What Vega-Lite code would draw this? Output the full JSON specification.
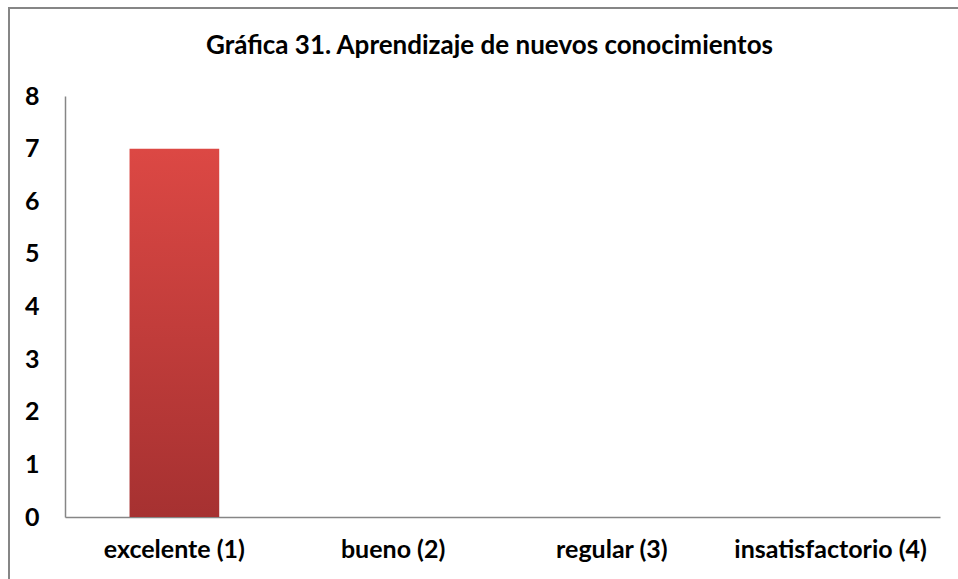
{
  "$schema": "https://vega.github.io/schema/vega-lite/v6.json",
  "width": 957,
  "height": 582,
  "autosize": {"type": "none"},
  "padding": {"left": 9, "top": 8, "right": 0, "bottom": 0},
  "background": "white",
  "title": {
    "text": "Gráfica 31. Aprendizaje de nuevos conocimientos",
    "font": "Lato",
    "fontSize": 26,
    "fontWeight": "bold",
    "color": "black",
    "anchor": "middle",
    "baseline": "alphabetic",
    "offset": -47,
    "dy": 25,
    "dx": 2
  },
  "data": {
    "values": [
      {"categoria": "excelente (1)", "valor": 7},
      {"categoria": "bueno (2)", "valor": 0},
      {"categoria": "regular (3)", "valor": 0},
      {"categoria": "insatisfactorio (4)", "valor": 0}
    ]
  },
  "mark": {
    "type": "bar",
    "width": {"band": 0.41},
    "color": {
      "gradient": "linear",
      "x1": 0, "y1": 0, "x2": 0, "y2": 1,
      "stops": [
        {"offset": 0, "color": "#dc4844"},
        {"offset": 1, "color": "#a63131"}
      ]
    }
  },
  "encoding": {
    "x": {
      "field": "categoria",
      "type": "nominal",
      "sort": null,
      "scale": {"range": [56, 931], "paddingInner": 0, "paddingOuter": 0},
      "axis": {
        "title": null,
        "orient": "bottom",
        "offset": -73,
        "labelAngle": 0,
        "labelFont": "Lato",
        "labelFontSize": 25,
        "labelFontWeight": "bold",
        "labelColor": "black",
        "labelPadding": 20,
        "labelLimit": 400,
        "labelOverlap": false,
        "ticks": false,
        "grid": false,
        "domainColor": "#868686",
        "domainWidth": 1.5
      }
    },
    "y": {
      "field": "valor",
      "type": "quantitative",
      "scale": {"domain": [0, 8], "range": [509, 88], "nice": false},
      "axis": {
        "title": null,
        "orient": "left",
        "offset": -56,
        "values": [0, 1, 2, 3, 4, 5, 6, 7, 8],
        "labelFont": "Lato",
        "labelFontSize": 25,
        "labelFontWeight": "bold",
        "labelColor": "black",
        "labelPadding": 26,
        "ticks": false,
        "grid": false,
        "domainColor": "#868686",
        "domainWidth": 1.5
      }
    }
  },
  "config": {
    "view": {"stroke": "#868686", "strokeWidth": 2}
  }
}
